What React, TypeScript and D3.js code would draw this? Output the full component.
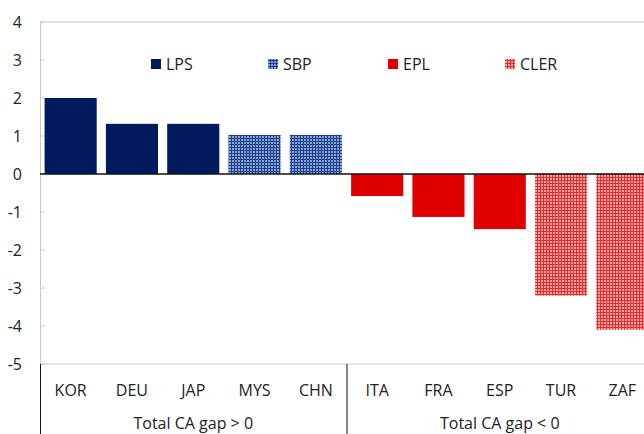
import React, { useEffect, useRef } from 'react';
import * as d3 from 'd3';

// Current account gap by component (pp of GDP)
const countries = ['KOR', 'DEU', 'JAP', 'MYS', 'CHN', 'ITA', 'FRA', 'ESP', 'TUR', 'ZAF'];
const values = [2.0, 1.32, 1.32, 1.03, 1.03, -0.58, -1.13, -1.45, -3.2, -4.1];
const series = ['LPS', 'LPS', 'LPS', 'SBP', 'SBP', 'EPL', 'EPL', 'EPL', 'CLER', 'CLER'];
const legendKeys = ['LPS', 'SBP', 'EPL', 'CLER'];
const groups = ['Total CA gap > 0', 'Total CA gap < 0'];
const yTicks = [4, 3, 2, 1, 0, -1, -2, -3, -4, -5];

const W = 644;
const H = 434;
const FONT = '"Open Sans", "Noto Sans", sans-serif';

const fills: Record<string, string> = {
  LPS: '#001a5e',
  SBP: 'url(#pat-sbp)',
  EPL: '#e00000',
  CLER: 'url(#pat-cler)',
};

const App = () => {
  const svgRef = useRef<SVGSVGElement | null>(null);

  useEffect(() => {
    if (!svgRef.current) return;
    const svg = d3.select(svgRef.current);
    svg.selectAll('*').remove();

    const margin = { left: 40, top: 22, bottom: 70 };
    const plotRight = 653;
    const plotBottom = H - margin.bottom;

    const x = d3.scaleBand<string>()
      .domain(countries)
      .range([margin.left, plotRight])
      .paddingInner(0.15)
      .paddingOuter(0.075);
    const step = x.step();
    const y = d3.scaleLinear().domain([-5, 4]).range([plotBottom, margin.top]);

    // patterns for the hatched series
    const defs = svg.append('defs');
    const mkPattern = (id: string, light: string, dark: string) => {
      const p = defs.append('pattern')
        .attr('id', id)
        .attr('patternUnits', 'userSpaceOnUse')
        .attr('width', 3)
        .attr('height', 3);
      p.append('rect').attr('width', 3).attr('height', 3).attr('fill', light);
      p.append('rect').attr('width', 3).attr('height', 1).attr('fill', dark);
      p.append('rect').attr('width', 1).attr('height', 3).attr('fill', dark);
    };
    mkPattern('pat-sbp', '#86a2d8', '#1f3f88');
    mkPattern('pat-cler', '#fba8a8', '#e82a2a');

    // frame lines
    svg.append('line')
      .attr('x1', margin.left).attr('x2', W)
      .attr('y1', y(4)).attr('y2', y(4))
      .attr('stroke', '#c8c8c8');
    svg.append('line')
      .attr('x1', margin.left).attr('x2', W)
      .attr('y1', y(-5)).attr('y2', y(-5))
      .attr('stroke', '#c8c8c8');
    svg.append('line')
      .attr('x1', margin.left + 0.5).attr('x2', margin.left + 0.5)
      .attr('y1', y(4)).attr('y2', y(-5))
      .attr('stroke', '#c8c8c8');

    // y ticks
    const yAxis = svg.append('g');
    yTicks.forEach(t => {
      yAxis.append('line')
        .attr('x1', margin.left).attr('x2', margin.left + 5)
        .attr('y1', y(t)).attr('y2', y(t))
        .attr('stroke', '#c8c8c8');
      yAxis.append('text')
        .attr('x', 22)
        .attr('y', y(t))
        .attr('dy', '0.35em')
        .attr('text-anchor', 'end')
        .attr('font-family', FONT)
        .attr('font-size', 16)
        .attr('fill', '#222')
        .text(t);
    });

    // bars
    svg.append('g')
      .selectAll('rect')
      .data(countries)
      .enter()
      .append('rect')
      .attr('x', d => x(d)!)
      .attr('width', x.bandwidth())
      .attr('y', (d, i) => y(Math.max(0, values[i])))
      .attr('height', (d, i) => Math.abs(y(values[i]) - y(0)))
      .attr('fill', (d, i) => fills[series[i]]);

    // zero line
    svg.append('line')
      .attr('x1', margin.left).attr('x2', W)
      .attr('y1', y(0)).attr('y2', y(0))
      .attr('stroke', '#111')
      .attr('stroke-width', 1.5);

    // category labels
    svg.append('g')
      .selectAll('text')
      .data(countries)
      .enter()
      .append('text')
      .attr('x', d => x(d)! + x.bandwidth() / 2)
      .attr('y', 396)
      .attr('text-anchor', 'middle')
      .attr('font-family', FONT)
      .attr('font-size', 16)
      .attr('fill', '#222')
      .text(d => d);

    // group separators and labels
    const groupBounds = [[margin.left, margin.left + step * 5], [margin.left + step * 5, plotRight]];
    [margin.left, margin.left + step * 5].forEach(gx => {
      svg.append('line')
        .attr('x1', gx + 0.5).attr('x2', gx + 0.5)
        .attr('y1', y(-5)).attr('y2', H)
        .attr('stroke', '#111');
    });
    groups.forEach((g, i) => {
      svg.append('text')
        .attr('x', (groupBounds[i][0] + groupBounds[i][1]) / 2)
        .attr('y', 429)
        .attr('text-anchor', 'middle')
        .attr('font-family', FONT)
        .attr('font-size', 16)
        .attr('fill', '#222')
        .text(g);
    });

    // legend
    const legendX = [151, 268, 388, 505];
    const legend = svg.append('g');
    legendKeys.forEach((k, i) => {
      legend.append('rect')
        .attr('x', legendX[i])
        .attr('y', 59)
        .attr('width', 10)
        .attr('height', 10)
        .attr('fill', fills[k]);
      legend.append('text')
        .attr('x', legendX[i] + 15)
        .attr('y', 64)
        .attr('dy', '0.35em')
        .attr('font-family', FONT)
        .attr('font-size', 16)
        .attr('fill', '#222')
        .text(k);
    });
  }, []);

  return (
    <svg
      ref={svgRef}
      width={W}
      height={H}
      style={{ position: 'absolute', left: 0, top: 0, background: '#fff' }}
    />
  );
};

export default App;
